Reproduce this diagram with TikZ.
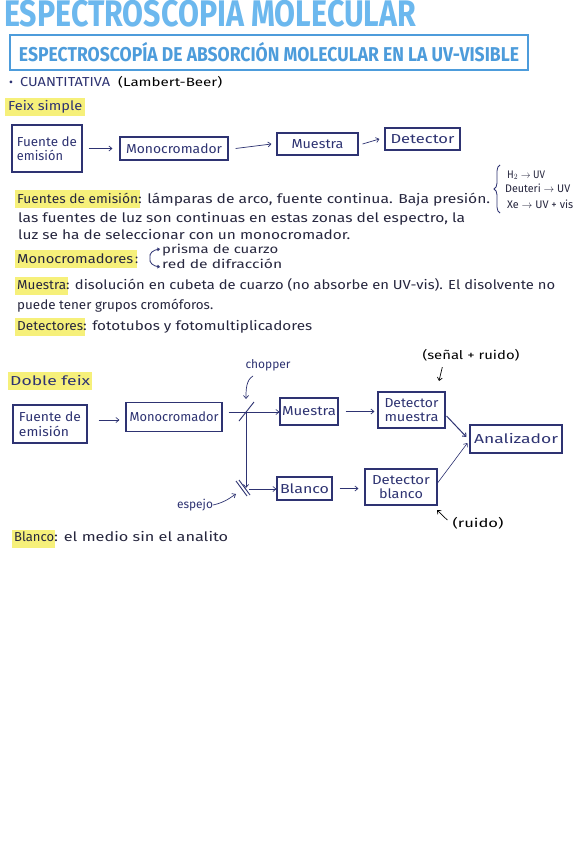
\documentclass[tikz,border=0pt]{standalone}
\usepackage{fontspec}
\setmainfont{Fira Sans}
\usetikzlibrary{arrows.meta,calc,decorations.pathreplacing}
\definecolor{navy}{HTML}{2E3372}
\definecolor{ink}{HTML}{26263E}
\definecolor{titleblue}{HTML}{6CB8EE}
\definecolor{boxblue}{HTML}{4D9CDB}
\definecolor{hly}{HTML}{F6F07A}
\newcommand\fitx[2]{\resizebox{#1}{\height}{#2}}
\begin{document}
\begin{tikzpicture}[x=1pt,y=-1pt,
  hl/.style={fill=hly,draw=none},
  txt/.style={anchor=base west,inner sep=0pt,text=ink,font=\fontsize{13}{15}\selectfont},
  lab/.style={inner sep=0pt,text=navy,font=\fontsize{12}{14}\selectfont},
  blk/.style={inner sep=0pt,text=black,font=\fontsize{12}{14}\selectfont},
  box/.style={draw=navy,line width=1.1pt,inner sep=0pt,text=navy,align=center,
              font=\fontsize{13}{14.5}\selectfont},
  arr/.style={draw=navy,line width=0.7pt,-{Straight Barb[length=3pt,width=5pt]}},
  barr/.style={draw=black,line width=0.7pt,-{Straight Barb[length=3pt,width=5pt]}},
  mirror/.style={draw=navy,line width=0.9pt}]
\useasboundingbox (0,0) rectangle (573,848);
\fill[white] (0,0) rectangle (573,848);

% title
\node[anchor=base west,inner sep=0pt,text=titleblue] (title) at (4,27)
  {\fitx{412pt}{\fontsize{37}{37}\selectfont\bfseries ESPECTROSCOPÍA MOLECULAR}};
\node[draw=boxblue,line width=2.6pt,minimum width=518pt,minimum height=35pt,inner sep=0pt,text=boxblue]
  (sub) at (269,52.5)
  {\fitx{500pt}{\fontsize{20}{20}\selectfont\bfseries ESPECTROSCOPÍA DE ABSORCIÓN MOLECULAR EN LA UV-VISIBLE}};

% cuantitativa
\node[lab,anchor=base west] (bul) at (9,87) {•};
\node[lab,anchor=base west,font=\fontsize{13}{15}\selectfont] (cuant) at (20,87) {\fitx{90pt}{CUANTITATIVA}};
\node[blk,anchor=base west] (lb) at (118,87) {\fitx{104pt}{(Lambert-Beer)}};

% highlights
\fill[hl] (5,98) rectangle (85,116);
\fill[hl] (15,190) rectangle (140,208);
\fill[hl] (15,250) rectangle (137,268);
\fill[hl] (15,277) rectangle (68,295);
\fill[hl] (15,318) rectangle (85,336);
\fill[hl] (8,372) rectangle (92,390);
\fill[hl] (12,530) rectangle (55,548);

\node[txt,text=navy] (fs) at (8,111) {\fitx{74pt}{Feix simple}};

% single beam
\node[box,minimum width=70pt,minimum height=47pt,align=left] (fe1) at (47,148.5) {\fitx{60pt}{Fuente de}\\\fitx{46pt}{emisión}};
\node[box,minimum width=108pt,minimum height=23pt] (mono1) at (174,148.5) {\fitx{96pt}{Monocromador}};
\node[box,minimum width=81pt,minimum height=22pt] (mue1) at (317.5,144) {\fitx{52pt}{Muestra}};
\node[box,minimum width=75pt,minimum height=22pt] (det1) at (422.5,139) {\fitx{64pt}{Detector}};
\draw[arr] ([xshift=6pt]fe1.east) -- ([xshift=-7pt]mono1.west);
\draw[arr] ([xshift=7pt]mono1.east) -- ([xshift=-5pt]mue1.west);
\draw[arr] ([xshift=4pt]mue1.east) -- ([xshift=-5pt]det1.west);

% fuentes
\node[txt] (fu1) at (17,203) {\fitx{121pt}{Fuentes de emisión}};
\node[txt] (fu2) at (138,203) {\fitx{352pt}{: lámparas de arco, fuente continua. Baja presión.}};
\node[txt] (fu3) at (18,222) {\fitx{447pt}{las fuentes de luz son continuas en estas zonas del espectro, la}};
\node[txt] (fu4) at (18,239) {\fitx{332pt}{luz se ha de seleccionar con un monocromador.}};
\draw[navy,line width=0.8pt,decorate,decoration={brace,amplitude=6pt}] (500,213) -- (500,165);
\node[txt,font=\fontsize{11}{13}\selectfont] (h2) at (507,178) {\fitx{38pt}{H$_2\to$ UV}};
\node[txt,font=\fontsize{11}{13}\selectfont] (deu) at (505,193) {\fitx{65pt}{Deuteri $\to$ UV}};
\node[txt,font=\fontsize{11}{13}\selectfont] (xe) at (507,208) {\fitx{66pt}{Xe $\to$ UV + vis}};

% monocromadores
\node[txt] (mo1) at (17,263) {\fitx{116pt}{Monocromadores}};
\node[txt] (mo2) at (135,263) {:};
\draw[navy,line width=0.8pt,-{Straight Barb[length=2pt,width=3pt]}] (150,258) .. controls (149,253) and (153,250) .. (160,249);
\draw[navy,line width=0.8pt,-{Straight Barb[length=2pt,width=3pt]}] (150,258) .. controls (149,263) and (153,266) .. (160,267);
\node[txt,font=\fontsize{12}{14}\selectfont] (pr) at (162,253) {\fitx{116pt}{prisma de cuarzo}};
\node[txt,font=\fontsize{12}{14}\selectfont] (rd) at (162,268) {\fitx{120pt}{red de difracción}};

% muestra
\node[txt] (mu1) at (17,289) {\fitx{49pt}{Muestra}};
\node[txt] (mu2) at (66,289) {\fitx{489pt}{: disolución en cubeta de cuarzo (no absorbe en UV-vis). El disolvente no}};
\node[txt] (mu3) at (17,309) {\fitx{196pt}{puede tener grupos cromóforos.}};

% detectores
\node[txt] (de1) at (17,330) {\fitx{66pt}{Detectores}};
\node[txt] (de2) at (83,330) {\fitx{229pt}{: fototubos y fotomultiplicadores}};

% double beam
\node[txt,text=navy] (dbl) at (10,385) {\fitx{80pt}{Doble feix}};
\node[box,minimum width=74pt,minimum height=38pt,align=left] (fe2) at (50,424) {\fitx{62pt}{Fuente de}\\\fitx{50pt}{emisión}};
\node[box,minimum width=96pt,minimum height=29pt] (mono2) at (174,417) {\fitx{89pt}{Monocromador}};
\node[box,minimum width=58pt,minimum height=27pt] (mue2) at (309,411.5) {\fitx{54pt}{Muestra}};
\node[box,minimum width=67pt,minimum height=36pt] (detm) at (411.5,410) {\fitx{54pt}{Detector}\\\fitx{54pt}{muestra}};
\node[box,minimum width=92pt,minimum height=28pt] (anal) at (516,439) {\fitx{84pt}{Analizador}};
\node[box,minimum width=55pt,minimum height=23pt] (bla) at (304.5,488.5) {\fitx{49pt}{Blanco}};
\node[box,minimum width=72pt,minimum height=36pt] (detb) at (401,487) {\fitx{58pt}{Detector}\\\fitx{44pt}{blanco}};

\coordinate (ch) at (246,412);
\coordinate (mir) at (246,489);
\draw[arr] ($(fe2.east)+(11,-4)$) -- ($(mono2.west)+(-6,3)$);
\draw[arr] ([xshift=6pt]mono2.east |- ch) -- (mue2.west |- ch);
\draw[mirror] ($(ch)+(-7,9)$) -- ($(ch)+(8,-10)$);
\draw[arr] (ch) -- ($(mir)+(0,-1)$);
\draw[mirror] ($(mir)+(-10,-8)$) -- ($(mir)+(1,7)$);
\draw[mirror] ($(mir)+(-7,-9)$) -- ($(mir)+(4,6)$);
\draw[arr] ($(mir)+(3,0)$) -- (bla.west |- mir);
\draw[arr] ([xshift=7pt]mue2.east) -- ([xshift=-3pt]detm.west |- mue2.east);
\draw[arr] ([xshift=7pt]bla.east) -- ([xshift=-6pt]detb.west |- bla.east);
\draw[arr,line width=1pt] ($(detm.east)+(1,6)$) -- ($(anal.west)+(-3,-2)$);
\draw[arr,line width=0.6pt] ($(detb.east)+(0,-4)$) -- ($(anal.west)+(-2,4)$);

% labels
\node[lab] (chop) at (268,365) {\fitx{45pt}{chopper}};
\coordinate (chs) at (253,376);
\coordinate (che) at (246,399);
\draw[arr] (chs) .. controls (246,380) and (246,390) .. (che);
\node[lab] (esp) at (195,505) {\fitx{36pt}{espejo}};
\coordinate (ese) at (236,494);
\draw[arr] (esp.east) .. controls (226,502) and (231,497) .. (ese);
\node[blk] (sr) at (471,355) {\fitx{97pt}{(señal + ruido)}};
\coordinate (sre) at (439,381);
\draw[barr] ($(sr.south west)+(20,6)$) -- (sre);
\node[blk] (ru) at (478,523) {\fitx{51pt}{(ruido)}};
\coordinate (rue) at (437,510);
\draw[barr] ($(ru.west)+(-5,-3)$) -- (rue);

% blanco
\node[txt] (bl1) at (14,541) {\fitx{40pt}{Blanco}};
\node[txt] (bl2) at (54,541) {\fitx{174pt}{: el medio sin el analito}};
\end{tikzpicture}
\end{document}
